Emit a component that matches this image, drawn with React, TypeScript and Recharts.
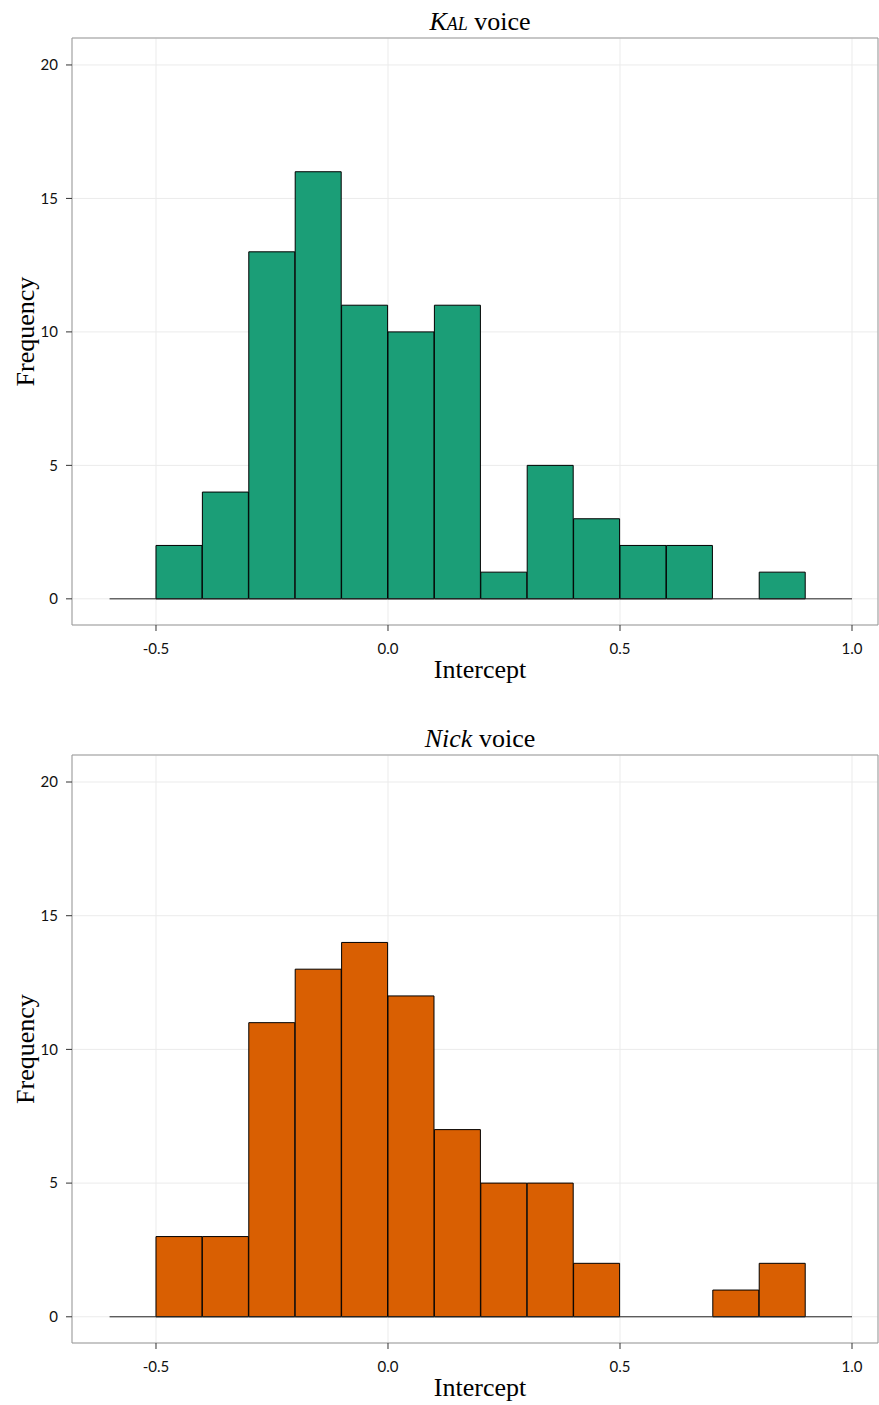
import React from 'react';
import { ComposedChart, Bar, XAxis, YAxis, CartesianGrid, ReferenceLine, ReferenceArea } from 'recharts';

const binStarts = [-0.6, -0.5, -0.4, -0.3, -0.2, -0.1, 0.0, 0.1, 0.2, 0.3, 0.4, 0.5, 0.6, 0.7, 0.8, 0.9];
const binWidth = 0.1;
const kalCounts = [0, 2, 4, 13, 16, 11, 10, 11, 1, 5, 3, 2, 2, 0, 1, 0];
const nickCounts = [0, 3, 3, 11, 13, 14, 12, 7, 5, 5, 2, 0, 0, 1, 2, 0];
const xTicks = [-0.5, 0.0, 0.5, 1.0];
const yTicks = [0, 5, 10, 15, 20];
const xDomain: [number, number] = [-0.681, 1.056];
const yDomain: [number, number] = [-0.98, 21.01];

const KAL_COLOR = '#1B9E77';
const NICK_COLOR = '#D95F02';

const serif = "'Liberation Serif', 'DejaVu Serif', serif";
const sans = "Lato, 'Noto Sans', sans-serif";

function buildData(counts: number[]) {
  return binStarts.map((s, i) => ({ x: +(s + binWidth / 2).toFixed(3), count: counts[i] }));
}

type PanelProps = {
  counts: number[];
  color: string;
  height: number;
  xAxisHeight: number;
  titleItalic: string;
  smallCaps: boolean;
};

function Panel({ counts, color, height, xAxisHeight, titleItalic, smallCaps }: PanelProps) {
  const data = buildData(counts);
  const first = binStarts[0];
  const last = binStarts[binStarts.length - 1] + binWidth;
  return (
    <div style={{ position: 'relative', width: 879, height }}>
      <svg
        width={879}
        height={38}
        style={{ position: 'absolute', left: 0, top: 0, pointerEvents: 'none' }}
      >
        <text x={480} y={30} textAnchor="middle" fontFamily={serif} fontSize={26} fill="#000">
          <tspan fontStyle="italic" style={smallCaps ? { fontVariant: 'small-caps' } : undefined}>
            {titleItalic}
          </tspan>
          <tspan> voice</tspan>
        </text>
      </svg>
      <ComposedChart
        width={879}
        height={height}
        data={data}
        margin={{ top: 38, right: 1, bottom: 0, left: 0 }}
        barCategoryGap={0}
        barGap={0}
      >
        <CartesianGrid stroke="#ebebeb" strokeWidth={1} />
        <XAxis
          dataKey="x"
          type="number"
          domain={xDomain}
          ticks={xTicks}
          allowDataOverflow
          height={xAxisHeight}
          tickFormatter={(v: number) => v.toFixed(1)}
          axisLine={false}
          tickLine={{ stroke: '#333', strokeWidth: 1 }}
          tickSize={6}
          tickMargin={12}
          tick={{ fill: '#111', fontSize: 15, fontFamily: sans }}
          label={(props: any) => {
            const vb = props.viewBox;
            return (
              <text
                x={vb.x + vb.width / 2 + 5}
                y={vb.y + 53}
                textAnchor="middle"
                fontFamily={serif}
                fontSize={26}
                fill="#000"
              >
                Intercept
              </text>
            );
          }}
        />
        <YAxis
          type="number"
          domain={yDomain}
          ticks={yTicks}
          allowDataOverflow
          width={72}
          axisLine={false}
          tickLine={{ stroke: '#333', strokeWidth: 1 }}
          tickSize={6}
          tickMargin={8}
          tick={{ fill: '#111', fontSize: 15, fontFamily: sans }}
          label={(props: any) => {
            const vb = props.viewBox;
            const cx = vb.x + 25;
            const cy = vb.y + vb.height / 2;
            return (
              <text
                x={cx}
                y={cy}
                transform={`rotate(-90, ${cx}, ${cy})`}
                textAnchor="middle"
                dominantBaseline="central"
                fontFamily={serif}
                fontSize={26}
                fill="#000"
              >
                Frequency
              </text>
            );
          }}
        />
        <ReferenceLine
          segment={[{ x: first, y: 0 }, { x: last, y: 0 }]}
          stroke="#222"
          strokeWidth={1}
        />
        <Bar dataKey="count" fill={color} stroke="#000" strokeWidth={1} isAnimationActive={false} />
        <ReferenceArea
          x1={xDomain[0]}
          x2={xDomain[1]}
          y1={yDomain[0]}
          y2={yDomain[1]}
          fill="none"
          fillOpacity={0}
          stroke="#999"
          strokeWidth={1}
          ifOverflow="visible"
        />
      </ComposedChart>
    </div>
  );
}

export default function App() {
  return (
    <div style={{ position: 'absolute', left: 0, top: 0, width: 879, height: 1405, overflow: 'hidden', background: '#fff' }}>
      <Panel counts={kalCounts} color={KAL_COLOR} height={717} xAxisHeight={92} titleItalic="Kal" smallCaps={true} />
      <Panel counts={nickCounts} color={NICK_COLOR} height={688} xAxisHeight={62} titleItalic="Nick" smallCaps={false} />
    </div>
  );
}
